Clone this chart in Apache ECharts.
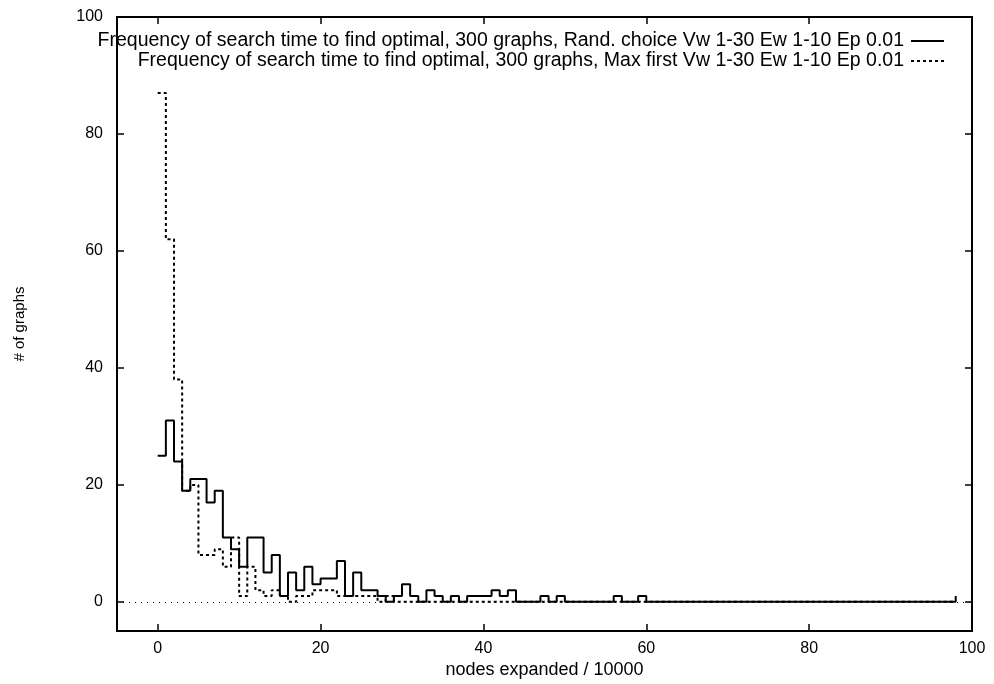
<!DOCTYPE html>
<html>
<head>
<meta charset="utf-8">
<script src="https://cdn.jsdelivr.net/npm/echarts@6/dist/echarts.min.js"></script>
<style>
html,body{margin:0;padding:0;background:#fff;}
#chart{width:994px;height:684px;}
</style>
</head>
<body>
<div id="chart"></div>
<script>
// Histogram bins: bin k spans [k, k+1] (nodes expanded / 10000)
const randChoiceCounts = [
  25,31,24,19,21,21,17,19,11,9,
  6,11,11,5,8,1,5,2,6,3,
  4,4,7,1,5,2,2,1,0,1,
  3,1,0,2,1,0,1,0,1,1,
  1,2,1,2,0,0,0,1,0,1,
  0,0,0,0,0,0,1,0,0,1,
  0,0,0,0,0,0,0,0,0,0,
  0,0,0,0,0,0,0,0,0,0,
  0,0,0,0,0,0,0,0,0,0,
  0,0,0,0,0,0,0,0
];
const randChoiceLast = [98, 1];
const maxFirstCounts = [
  87,62,38,19,20,8,8,9,6,11,
  1,6,2,1,2,1,0,1,1,2,
  2,2,1,1,1,1,1,0,1,0,
  0,0,0,0,0,0,0,0,0,0,
  0,0,0,0,0,0,0,0,0,0,
  0,0,0,0,0,0,0,0,0,0,
  0,0,0,0,0,0,0,0,0,0,
  0,0,0,0,0,0,0,0,0,0,
  0,0,0,0,0,0,0,0,0,0,
  0,0,0,0,0,0,0,0
];
const maxFirstLast = [98, 0];
const xTicks = [0, 20, 40, 60, 80, 100];
const yTicks = [0, 20, 40, 60, 80, 100];
const seriesNames = [
  'Frequency of search time to find optimal, 300 graphs, Rand. choice Vw 1-30 Ew 1-10 Ep 0.01',
  'Frequency of search time to find optimal, 300 graphs, Max first Vw 1-30 Ew 1-10 Ep 0.01'
];
const xName = 'nodes expanded / 10000';
const yName = '# of graphs';

function toSteps(counts, last) {
  const pts = counts.map((v, k) => [k, v]);
  pts.push(last);
  return pts;
}

const FONT = "'Liberation Sans', Arial, sans-serif";
const chart = echarts.init(document.getElementById('chart'), null, {renderer: 'canvas'});

function ticks(vals) {
  return {show: true, inside: true, length: 7, customValues: vals, lineStyle: {color: '#000', width: 1.5}};
}

chart.setOption({
  animation: false,
  backgroundColor: '#fff',
  grid: {left: 117, right: 22, top: 17, bottom: 48, show: true, borderColor: '#000', borderWidth: 2, backgroundColor: 'transparent'},
  legend: {
    show: true,
    right: 44, top: 26,
    orient: 'vertical',
    align: 'right',
    itemWidth: 33, itemHeight: 12, itemGap: 0,
    itemStyle: {opacity: 0},
    textStyle: {fontFamily: FONT, fontSize: 19.5, color: '#000', lineHeight: 18, padding: [0, 2, 0, 0]},
    data: seriesNames
  },
  xAxis: [{
    type: 'value', min: -5, max: 100,
    name: xName, nameLocation: 'middle', nameGap: 28,
    nameTextStyle: {fontFamily: FONT, fontSize: 18, color: '#000'},
    axisLine: {show: false, onZero: false},
    splitLine: {show: false},
    axisTick: ticks(xTicks),
    axisLabel: {customValues: xTicks, fontFamily: FONT, fontSize: 16, color: '#000', margin: 9}
  }, {
    type: 'value', min: -5, max: 100, position: 'top',
    axisLine: {show: false, onZero: false}, splitLine: {show: false},
    axisTick: ticks(xTicks),
    axisLabel: {show: false}
  }],
  yAxis: [{
    type: 'value', min: -5, max: 100,
    name: yName, nameLocation: 'middle', nameGap: 90, nameRotate: 90,
    nameTextStyle: {fontFamily: FONT, fontSize: 15, color: '#000'},
    axisLine: {show: false, onZero: false}, splitLine: {show: false},
    axisTick: ticks(yTicks),
    axisLabel: {customValues: yTicks, fontFamily: FONT, fontSize: 16, color: '#000', margin: 14}
  }, {
    type: 'value', min: -5, max: 100, position: 'right',
    axisLine: {show: false, onZero: false}, splitLine: {show: false},
    axisTick: ticks(yTicks),
    axisLabel: {show: false}
  }],
  series: [{
    name: seriesNames[0],
    type: 'line', step: 'end', symbol: 'none',
    xAxisIndex: 0, yAxisIndex: 0,
    data: toSteps(randChoiceCounts, randChoiceLast),
    lineStyle: {color: '#000', width: 2, type: 'solid'},
    itemStyle: {color: '#000'},
    z: 3,
    markLine: {
      silent: true, symbol: 'none', label: {show: false},
      lineStyle: {color: '#000', width: 1, type: [1, 5]},
      data: [{yAxis: 0}]
    }
  }, {
    name: seriesNames[1],
    type: 'line', step: 'end', symbol: 'none',
    xAxisIndex: 0, yAxisIndex: 0,
    data: toSteps(maxFirstCounts, maxFirstLast),
    lineStyle: {color: '#000', width: 2, type: [3, 3]},
    itemStyle: {color: '#000'},
    z: 2
  }]
});
</script>
</body>
</html>
